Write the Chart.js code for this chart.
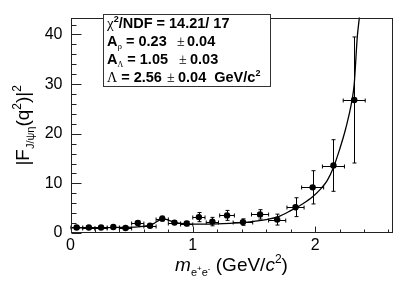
<!DOCTYPE html>
<html>
<head>
<meta charset="utf-8">
<script src="https://cdn.jsdelivr.net/npm/chart.js@4.4.1/dist/chart.umd.min.js"></script>
<style>
  html, body { margin: 0; padding: 0; background: #fff; }
  #wrap { width: 415px; height: 281px; }
</style>
</head>
<body>
<div id="wrap"><canvas id="chart" width="415" height="281"></canvas></div>
<script>
// measured points
const massBins = [0.05, 0.15, 0.25, 0.35, 0.45, 0.55, 0.65, 0.75, 0.85, 0.95, 1.05, 1.16, 1.28, 1.41, 1.55, 1.69, 1.84, 1.98, 2.15, 2.32];
const massHalfWidth = [0.05, 0.05, 0.05, 0.05, 0.05, 0.05, 0.05, 0.05, 0.05, 0.05, 0.05, 0.05, 0.06, 0.08, 0.07, 0.07, 0.07, 0.09, 0.09, 0.09];
const formFactor = [1.12, 1.1, 1.1, 1.2, 1.0, 2.0, 1.45, 2.9, 2.1, 1.9, 3.2, 2.3, 3.55, 2.2, 3.75, 2.7, 5.2, 9.2, 13.6, 26.8];
const formFactorErr = [0.2, 0.2, 0.2, 0.2, 0.25, 0.4, 0.35, 0.5, 0.4, 0.45, 0.92, 0.85, 1.0, 0.65, 0.95, 1.1, 1.9, 3.35, 5.2, 12.7];

// fit curve
const fitMass = [0, 0.2, 0.4, 0.55, 0.62, 0.68, 0.72, 0.76, 0.8, 0.85, 0.9, 1.0, 1.1, 1.2, 1.3, 1.4, 1.5, 1.6, 1.7, 1.8, 1.9, 1.98, 2.05, 2.1, 2.15, 2.2, 2.25, 2.3, 2.32, 2.345, 2.36, 2.375];
const fitValues = [1.05, 1.07, 1.12, 1.25, 1.45, 1.9, 2.5, 2.85, 2.6, 2.15, 1.95, 1.8, 1.8, 1.85, 1.95, 2.1, 2.35, 2.7, 3.3, 4.5, 5.9, 7.3, 9.0, 10.6, 13.2, 16.8, 21.0, 26.5, 30.0, 39.5, 43.0, 47.0];

const xTicks = [0, 1, 2];
const xMinorStep = 0.2;
const yTicks = [0, 10, 20, 30, 40];
const yMinorStep = 2;
const xMax = 2.633;
const yMax = 43.4;

const FONT = "'Liberation Sans', Arial, Helvetica, sans-serif";
const SYM = "'Liberation Serif', 'DejaVu Serif', serif";

// draw a list of text pieces one after another
function runsWidth(ctx, runs) {
  let w = 0;
  for (const r of runs) { ctx.font = r.f; w += ctx.measureText(r.t).width; }
  return w;
}
function drawRuns(ctx, x, y, runs) {
  for (const r of runs) {
    ctx.font = r.f;
    if (r.x !== undefined) x = r.x;
    ctx.fillStyle = r.c || '#000';
    ctx.fillText(r.t, x, y + (r.dy || 0));
    x += ctx.measureText(r.t).width;
  }
}

const errorBars = {
  id: 'errorBars',
  afterDatasetsDraw(chart) {
    const { ctx, chartArea: a, scales: { x, y } } = chart;
    ctx.save();
    ctx.beginPath();
    ctx.rect(a.left, a.top, a.right - a.left, a.bottom - a.top);
    ctx.clip();
    ctx.strokeStyle = '#000';
    ctx.lineWidth = 1;
    ctx.beginPath();
    massBins.forEach((m, i) => {
      const px = Math.round(x.getPixelForValue(m)) + 0.5;
      const py = Math.round(y.getPixelForValue(formFactor[i])) + 0.5;
      const x0 = x.getPixelForValue(m - massHalfWidth[i]);
      const x1 = x.getPixelForValue(m + massHalfWidth[i]);
      const y0 = y.getPixelForValue(formFactor[i] - formFactorErr[i]);
      const y1 = y.getPixelForValue(formFactor[i] + formFactorErr[i]);
      ctx.moveTo(x0, py); ctx.lineTo(x1, py);
      ctx.moveTo(px, y0); ctx.lineTo(px, y1);
      // small end caps
      ctx.moveTo(x0, py - 2); ctx.lineTo(x0, py + 2);
      ctx.moveTo(x1, py - 2); ctx.lineTo(x1, py + 2);
      ctx.moveTo(px - 2, y0); ctx.lineTo(px + 2, y0);
      ctx.moveTo(px - 2, y1); ctx.lineTo(px + 2, y1);
    });
    ctx.stroke();
    ctx.restore();
  }
};

const frameAndText = {
  id: 'frameAndText',
  afterDraw(chart) {
    const { ctx, chartArea: a, scales: { x, y } } = chart;
    ctx.save();
    // frame
    ctx.strokeStyle = '#222';
    ctx.lineWidth = 1;
    const L = Math.round(a.left) + 0.5, R = Math.round(a.right) - 0.5;
    const T = Math.round(a.top) + 0.5, B = Math.round(a.bottom) - 0.5;
    ctx.strokeRect(L, T, R - L, B - T);

    // inward ticks
    ctx.beginPath();
    for (let v = 0; v <= xMax + 1e-9; v += xMinorStep) {
      const major = xTicks.some(t => Math.abs(t - v) < 1e-6);
      const px = Math.round(x.getPixelForValue(v)) + 0.5;
      ctx.moveTo(px, B); ctx.lineTo(px, B - (major ? 6 : 3));
    }
    for (let v = 0; v <= yMax + 1e-9; v += yMinorStep) {
      const major = yTicks.some(t => Math.abs(t - v) < 1e-6);
      const py = Math.round(y.getPixelForValue(v)) + 0.5;
      ctx.moveTo(L, py); ctx.lineTo(L + (major ? 10 : 5), py);
    }
    ctx.stroke();

    // x title
    ctx.textBaseline = 'alphabetic';
    const xRuns = [
      { t: 'm', f: 'italic 19px ' + FONT },
      { t: 'e', f: '11px ' + FONT, dy: 5 },
      { t: '+', f: '8px ' + FONT, dy: 0 },
      { t: 'e', f: '11px ' + FONT, dy: 5 },
      { t: '-', f: '8px ' + FONT, dy: 0 },
      { t: ' (GeV/', f: '19px ' + FONT },
      { t: 'c', f: 'italic 19px ' + FONT },
      { t: '2', f: '12px ' + FONT, dy: -8 },
      { t: ')', f: '19px ' + FONT }
    ];
    const xc = (a.left + a.right) / 2;
    drawRuns(ctx, xc - runsWidth(ctx, xRuns) / 2, 271, xRuns);

    // y title
    const yRuns = [
      { t: '|F', f: '19px ' + FONT },
      { t: 'J/\u03C8\u03B7', f: '11px ' + FONT, dy: 5 },
      { t: '(q', f: '19px ' + FONT },
      { t: '2', f: '12px ' + FONT, dy: -8 },
      { t: ')|', f: '19px ' + FONT },
      { t: '2', f: '12px ' + FONT, dy: -8 }
    ];
    ctx.save();
    ctx.translate(29, (a.top + a.bottom) / 2);
    ctx.rotate(-Math.PI / 2);
    drawRuns(ctx, -runsWidth(ctx, yRuns) / 2, 0, yRuns);
    ctx.restore();

    // stats box
    ctx.fillStyle = '#fff';
    ctx.fillRect(103, 14, 167, 72);
    ctx.strokeStyle = '#333';
    ctx.strokeRect(103.5, 14.5, 167, 72);
    const B14 = 'bold 14.5px ' + FONT;
    const lines = [
      [{ t: '\u03C7', f: '15px ' + SYM, x: 107 }, { t: '2', f: 'bold 9px ' + FONT, dy: -6 }, { t: '/NDF = 14.21/ 17', f: B14 }],
      [{ t: 'A', f: B14, x: 107 }, { t: '\u03C1', f: '9px ' + SYM, dy: 3 }, { t: ' = 0.23', f: B14 }, { t: '\u00B1', f: '14px ' + SYM, x: 177 }, { t: '0.04', f: B14, x: 187 }],
      [{ t: 'A', f: B14, x: 107 }, { t: '\u039B', f: '8px ' + SYM, dy: 3 }, { t: ' = 1.05', f: B14 }, { t: '\u00B1', f: '14px ' + SYM, x: 179 }, { t: '0.03', f: B14, x: 190 }],
      [{ t: '\u039B', f: '14px ' + SYM, x: 107 }, { t: ' = 2.56', f: B14 }, { t: '\u00B1', f: '14px ' + SYM, x: 167 }, { t: '0.04  GeV/c', f: B14, x: 178 }, { t: '2', f: 'bold 9px ' + FONT, dy: -6 }]
    ];
    const baselines = [28, 46, 64, 82];
    lines.forEach((runs, i) => drawRuns(ctx, 107, baselines[i], runs));
    ctx.restore();
  }
};

new Chart(document.getElementById('chart'), {
  type: 'scatter',
  data: {
    datasets: [
      {
        type: 'line',
        data: fitMass.map((m, i) => ({ x: m, y: fitValues[i] })),
        borderColor: '#000',
        borderWidth: 1.3,
        pointRadius: 0,
        cubicInterpolationMode: 'monotone',
        fill: false,
        order: 2
      },
      {
        data: massBins.map((m, i) => ({ x: m, y: formFactor[i] })),
        pointRadius: 3.2,
        pointBackgroundColor: '#000',
        pointBorderWidth: 0,
        order: 1
      }
    ]
  },
  options: {
    responsive: false,
    animation: false,
    devicePixelRatio: 1,
    layout: { padding: { top: 13, right: 22.5, left: 0, bottom: 0 } },
    plugins: { legend: { display: false }, tooltip: { enabled: false } },
    scales: {
      x: {
        type: 'linear',
        min: 0,
        max: xMax,
        afterBuildTicks: s => { s.ticks = xTicks.map(v => ({ value: v })); },
        afterFit: s => { s.height = 48; },
        grid: { display: false, drawTicks: false },
        border: { display: false },
        ticks: { padding: 3, color: '#000', font: { family: FONT, size: 16 }, maxRotation: 0, autoSkip: false, callback: v => String(v) }
      },
      y: {
        min: 0,
        max: yMax,
        afterBuildTicks: s => { s.ticks = yTicks.map(v => ({ value: v })); },
        afterFit: s => { s.width = 70.5; },
        grid: { display: false, drawTicks: false },
        border: { display: false },
        ticks: { padding: 8, color: '#000', font: { family: FONT, size: 16 }, autoSkip: false, callback: v => String(v) }
      }
    }
  },
  plugins: [errorBars, frameAndText]
});
</script>
</body>
</html>
